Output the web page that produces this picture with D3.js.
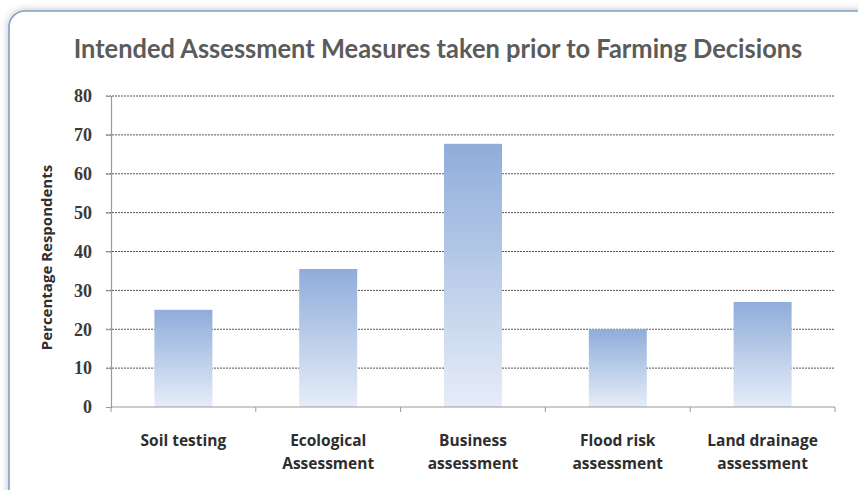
<!DOCTYPE html>
<html>
<head>
<meta charset="utf-8">
<script src="https://cdn.jsdelivr.net/npm/d3@7/dist/d3.min.js"></script>
<style>
  html, body { margin: 0; padding: 0; background: #ffffff; }
  svg { display: block; }
</style>
</head>
<body>
<svg id="chart" width="858" height="490"></svg>
<script>
// Share of respondents planning each assessment before a farming decision
const categories = [
  ["Soil testing"],
  ["Ecological", "Assessment"],
  ["Business", "assessment"],
  ["Flood risk", "assessment"],
  ["Land drainage", "assessment"]
];
const values = [25, 35.5, 67.7, 20, 27];
const yTicks = [0, 10, 20, 30, 40, 50, 60, 70, 80];
const titleText = "Intended Assessment Measures taken prior to Farming Decisions";
const yAxisTitle = "Percentage Respondents";

const W = 858, H = 490;
const plot = { left: 111, right: 835, top: 96, bottom: 407 };

const svg = d3.select("#chart");
const defs = svg.append("defs");

// soft shadow around the card
const shadow = defs.append("filter").attr("id", "cardShadow")
  .attr("x", "-10%").attr("y", "-10%").attr("width", "120%").attr("height", "120%");
shadow.append("feGaussianBlur").attr("in", "SourceAlpha").attr("stdDeviation", 4).attr("result", "b");
shadow.append("feComponentTransfer").attr("in", "b").attr("result", "s")
  .append("feFuncA").attr("type", "linear").attr("slope", 0.25);
const merge = shadow.append("feMerge");
merge.append("feMergeNode").attr("in", "s");
merge.append("feMergeNode").attr("in", "SourceGraphic");

// vertical fill for the bars
const grad = defs.append("linearGradient").attr("id", "barFill")
  .attr("x1", 0).attr("y1", 0).attr("x2", 0).attr("y2", 1);
grad.append("stop").attr("offset", "0%").attr("stop-color", "#8fadda");
grad.append("stop").attr("offset", "100%").attr("stop-color", "#e6edf8");

// card
svg.append("rect")
  .attr("x", 9).attr("y", 11)
  .attr("width", W + 20).attr("height", H - 11 + 20)
  .attr("rx", 16).attr("ry", 16)
  .attr("fill", "#ffffff")
  .attr("stroke", "#7fa1c6")
  .attr("stroke-width", 1.6)
  .attr("filter", "url(#cardShadow)");

// title: tall bold face, squeezed horizontally to span the chart width
const titleG = svg.append("g");
const title = titleG.append("text")
  .attr("x", 0).attr("y", 0)
  .attr("text-anchor", "middle")
  .attr("font-family", "Lato, 'Open Sans', sans-serif")
  .attr("font-weight", "bold")
  .attr("font-size", 27)
  .attr("fill", "#5b5b5b")
  .text(titleText);
const tw = title.node().getComputedTextLength();
titleG.attr("transform", `translate(438,58) scale(${729 / tw},1)`);

const xOuter = d3.scaleBand()
  .domain(d3.range(categories.length))
  .range([plot.left, plot.right]);
const y = d3.scaleLinear().domain([0, 80]).range([plot.bottom, plot.top]);

// dashed gridlines
svg.append("g")
  .selectAll("line")
  .data(yTicks.filter(d => d > 0))
  .join("line")
  .attr("x1", plot.left - 5).attr("x2", plot.right)
  .attr("y1", d => y(d)).attr("y2", d => y(d))
  .attr("stroke", "#555555")
  .attr("stroke-width", 1)
  .attr("stroke-dasharray", "2,1");

// bars
svg.append("g")
  .selectAll("rect")
  .data(values)
  .join("rect")
  .attr("x", (d, i) => xOuter(i) + xOuter.bandwidth() / 2 - 29)
  .attr("width", 58)
  .attr("y", d => y(d))
  .attr("height", d => y(0) - y(d))
  .attr("fill", "url(#barFill)");

// y axis
const yAxis = svg.append("g")
  .attr("transform", `translate(${plot.left},0)`)
  .call(d3.axisLeft(y).tickValues(yTicks).tickSize(5).tickPadding(14));
yAxis.select(".domain").attr("stroke", "#9a9a9a").attr("stroke-width", 1.2);
yAxis.selectAll(".tick line").attr("stroke", "#9a9a9a");
yAxis.selectAll(".tick text")
  .attr("font-family", "'Liberation Serif', 'DejaVu Serif', serif")
  .attr("font-weight", "bold")
  .attr("font-size", 18)
  .attr("fill", "#3a3a3a");

// x axis with category separators
const xAxis = svg.append("g")
  .attr("transform", `translate(0,${plot.bottom})`);
xAxis.append("line")
  .attr("x1", plot.left).attr("x2", plot.right)
  .attr("y1", 0).attr("y2", 0)
  .attr("stroke", "#9a9a9a").attr("stroke-width", 1.2);
const seps = d3.range(categories.length + 1).map(i =>
  i < categories.length ? xOuter(i) : plot.right);
xAxis.selectAll("line.sep")
  .data(seps)
  .join("line")
  .attr("class", "sep")
  .attr("x1", d => d).attr("x2", d => d)
  .attr("y1", 0).attr("y2", 5)
  .attr("stroke", "#9a9a9a");

// category labels
const labels = svg.append("g")
  .selectAll("text")
  .data(categories)
  .join("text")
  .attr("x", (d, i) => xOuter(i) + xOuter.bandwidth() / 2)
  .attr("y", 446)
  .attr("text-anchor", "middle")
  .attr("font-family", "'Open Sans', sans-serif")
  .attr("font-weight", "bold")
  .attr("font-size", 15.5)
  .attr("fill", "#2e2e2e");
labels.selectAll("tspan")
  .data(d => d)
  .join("tspan")
  .attr("x", function () { return d3.select(this.parentNode).attr("x"); })
  .attr("dy", (d, i) => i === 0 ? 0 : 23)
  .text(d => d);

// y axis title
svg.append("text")
  .attr("transform", `translate(52,${(plot.top + plot.bottom) / 2 + 6}) rotate(-90)`)
  .attr("text-anchor", "middle")
  .attr("font-family", "'Open Sans', sans-serif")
  .attr("font-weight", "bold")
  .attr("font-size", 15)
  .attr("fill", "#2e2e2e")
  .text(yAxisTitle);
</script>
</body>
</html>
